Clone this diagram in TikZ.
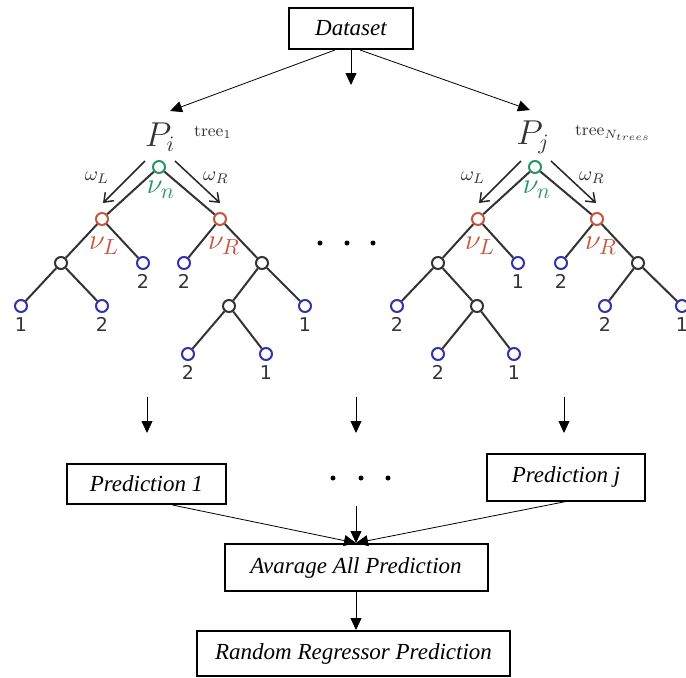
\documentclass[tikz,border=0pt]{standalone}
\usepackage{fontspec}
\newfontfamily\boxfont{Liberation Serif}
\newfontfamily\leaffont{DejaVu Sans}
\usetikzlibrary{arrows.meta,positioning,calc}
\definecolor{nugreen}{RGB}{40,150,100}
\definecolor{nured}{RGB}{200,85,60}
\definecolor{leafblue}{RGB}{50,50,170}
\tikzset{
    box/.style={draw,line width=1pt,inner sep=0pt,font=\boxfont\itshape\fontsize{11.5}{13}\selectfont},
    arr/.style={->,>={Triangle[length=6pt,width=5.5pt]},thin},
    warr/.style={-{Straight Barb[length=4pt,width=6pt]},black!85,line width=0.75pt},
    tnode/.style={circle,draw,fill=white,line width=1pt,minimum size=6pt,inner sep=0pt},
    rootnode/.style={tnode,draw=nugreen},
    childnode/.style={tnode,draw=nured},
    splitnode/.style={tnode,draw=black!80},
    leafnode/.style={tnode,draw=leafblue,label={[leaflbl]below:#1}},
    leaflbl/.style={text=black!80,font=\leaffont\fontsize{9.5}{10}\selectfont,inner sep=2pt},
    branch/.style={black!80,line width=1pt},
    lbl/.style={text=black!80,inner sep=0pt},
    nulbl/.style={inner sep=0pt,font=\fontsize{15}{17}\selectfont},
}

\begin{document}
\begin{tikzpicture}[x=0.5pt,y=-0.5pt]
    \useasboundingbox (0,0) rectangle (686,677);

    % boxes
    \node[box,minimum width=62pt,minimum height=20.5pt] (data) at (351,28.5) {Dataset};
    \node[box,minimum width=79.5pt,minimum height=20pt] (pred1) at (146.5,484) {Prediction 1};
    \node[box,minimum width=79pt,minimum height=23.5pt] (predj) at (566,477) {Prediction j};
    \node[box,minimum width=131.5pt,minimum height=23.5pt] (avg) at (356,567.5) {Avarage All Prediction};
    \node[box,minimum width=156.5pt,minimum height=22.5pt] (rrp) at (353.5,653.5) {Random Regressor Prediction};

    % tree titles
    \node[lbl,font=\fontsize{16}{18}\selectfont] (Pi) at (160,137) {$P_i$};
    \node[lbl,font=\fontsize{8.5}{10}\selectfont] (t1) at (213,132) {$\mathrm{tree}_1$};
    \node[lbl,font=\fontsize{16}{18}\selectfont] (Pj) at (533,137) {$P_j$};
    \node[lbl,font=\fontsize{8.5}{10}\selectfont] (tN) at (613,133) {$\mathrm{tree}_{N_{trees}}$};

    % dataset to trees
    \coordinate (tipi) at (170,111);
    \coordinate (tipm) at (351,85);
    \coordinate (tipj) at (530,110);
    \draw[arr] ($(data.south)+(-16,0)$) -- (tipi);
    \draw[arr] (data.south) -- (tipm);
    \draw[arr] ($(data.south)+(9,0)$) -- (tipj);

    % left tree
    \node[rootnode] (r1) at (159,167) {};
    \node[childnode] (l1) at (102,219) {};
    \node[childnode] (rr1) at (220,219) {};
    \node[splitnode] (a1) at (61,263) {};
    \node[splitnode] (f1) at (262,263) {};
    \node[splitnode] (g1) at (229,306) {};
    % right tree
    \node[rootnode] (r2) at (535,167) {};
    \node[childnode] (l2) at (478,219) {};
    \node[childnode] (rr2) at (597,219) {};
    \node[splitnode] (a2) at (438,263) {};
    \node[splitnode] (d2) at (477,306) {};
    \node[splitnode] (f2) at (638,263) {};

    \foreach \n/\x/\y/\v in {b1/143/263/2, c1/21/306/1, d1/102/306/2, e1/184/263/2,
        h1/305/306/1, i1/188/354/2, j1/266/354/1,
        b2/518/263/1, c2/397/306/2, i2/438/354/2, j2/514/354/1,
        e2/561/263/2, g2/605/306/2, h2/682/306/1}
        \node[leafnode=\v] (\n) at (\x,\y) {};

    \foreach \a/\b in {r1/l1, r1/rr1, l1/a1, l1/b1, a1/c1, a1/d1, rr1/e1, rr1/f1,
        f1/g1, f1/h1, g1/i1, g1/j1,
        r2/l2, r2/rr2, l2/a2, l2/b2, a2/c2, a2/d2, d2/i2, d2/j2, rr2/e2, rr2/f2,
        f2/g2, f2/h2}
        \draw[branch] (\a) -- (\b);

    \foreach \r/\i in {r1/1, r2/2}{
        \node[nulbl,text=nugreen,below=3.5pt of \r,xshift=1pt] (nun\i) {$\nu_n$};
        \draw[warr] ($(\r)+(-14,-6)$) -- ++(-42,42);
        \draw[warr] ($(\r)+(16,-6)$) -- ++(45,42);
        \node[lbl,font=\fontsize{10}{12}\selectfont] (wl\i) at ($(\r)+(-62,11)$) {$\omega_L$};
        \node[lbl,font=\fontsize{10}{12}\selectfont] (wr\i) at ($(\r)+(57,11)$) {$\omega_R$};
    }
    \node[nulbl,text=nured,below=5.5pt of l1,xshift=1pt] (nuL1) {$\nu_L$};
    \node[nulbl,text=nured,below=5.5pt of rr1,xshift=2pt] (nuR1) {$\nu_R$};
    \node[nulbl,text=nured,below=5.5pt of l2,xshift=1pt] (nuL2) {$\nu_L$};
    \node[nulbl,text=nured,below=5.5pt of rr2,xshift=2pt] (nuR2) {$\nu_R$};

    % dots
    \foreach \x in {320,347,373} \fill (\x,243) circle (2.5);
    \foreach \x in {333,361,388} \fill (\x,478) circle (2.5);

    % trees to predictions
    \foreach \x/\n in {147/1, 356/2, 564/3}{
        \coordinate (s\n) at (\x,397);
        \coordinate (e\n) at (\x,433);
        \draw[arr] (s\n) -- (e\n);
    }

    % predictions to average
    \coordinate (dotsout) at (356,506);
    \draw[arr] ($(pred1.south)+(26,0)$) -- (avg.north);
    \draw[arr] (dotsout) -- (avg.north);
    \draw[arr] (predj.south) -- (avg.north);
    \draw[arr] (avg.south) -- (avg.south |- rrp.north);
\end{tikzpicture}
\end{document}
